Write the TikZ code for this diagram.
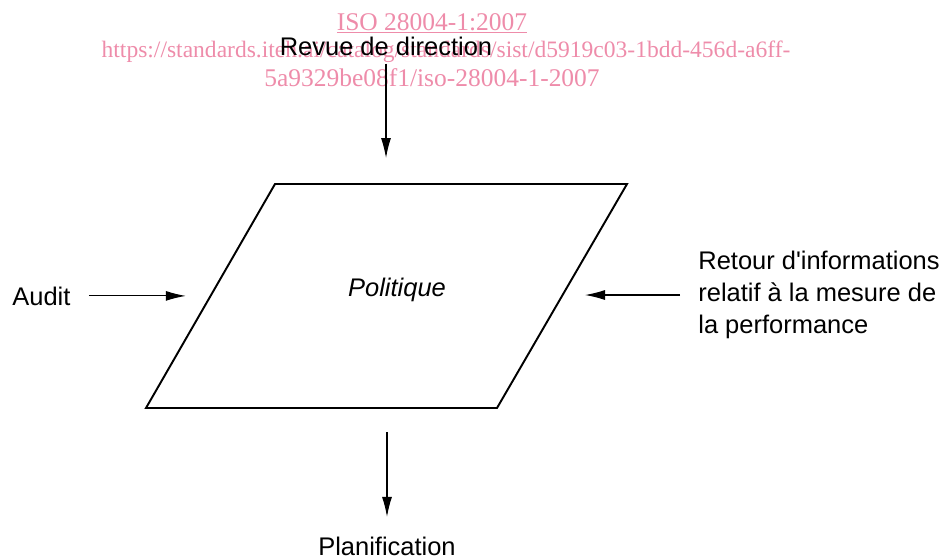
\documentclass[tikz,border=0pt]{standalone}
\usepackage{fontspec}
\setmainfont{Liberation Sans}
\newfontfamily\wmfont{Liberation Serif}
\usetikzlibrary{arrows.meta}
\definecolor{wmpink}{RGB}{238,140,170}

\begin{document}
\begin{tikzpicture}[x=0.02cm, y=-0.02cm, font=\fontsize{14.5}{19}\selectfont]
    %politique
\tikzset{
    flux/.style={-{Latex[length=4mm, width=2mm]}, line width=0.6pt},
    lbl/.style={inner sep=0pt},
    wm/.style={wmpink, inner sep=0pt, font=\wmfont\fontsize{14.5}{16}\selectfont}
}
    \useasboundingbox (0,0) rectangle (949,558);
    % filigrane
    \node[wm, anchor=base](wmiso) at (432,30) {\underline{ISO 28004-1:2007}};
    \node[wm, anchor=base, font=\wmfont\fontsize{13.4}{16}\selectfont](wmurl) at (446,57) {https://standards.iteh.ai/catalog/standards/sist/d5919c03-1bdd-456d-a6ff-};
    \node[wm, anchor=base](wmref) at (432,86) {5a9329be08f1/iso-28004-1-2007};

    \coordinate (p1) at (275,184);
    \coordinate (p2) at (627,184);
    \coordinate (p3) at (497,408);
    \coordinate (p4) at (146,408);
    \draw[line width=1.1pt] (p1) -- (p2) -- (p3) -- (p4) -- cycle;
    \node[lbl](Politique) at (397,290) {\itshape Politique};

    \node[lbl, anchor=base](Revue) at (386,55) {Revue de direction};
    \node[lbl, anchor=base west](Audit) at (12,305) {Audit};
    \node[lbl, anchor=west, align=left, font=\fontsize{14.5}{18.2}\selectfont](Retour) at (698,295) {Retour d\textquotesingle informations\\relatif à la mesure de\\la performance};
    \node[lbl, anchor=base](Planification) at (387,555) {Planification};

    \coordinate (haut) at (386,158);
    \coordinate (bas) at (387,432);
    \draw[flux] (Revue.south) ++(0,8) -- (haut);
    \draw[flux] (Audit.east) ++(18,0) -- ++(97,0);
    \draw[flux] (Retour.west) ++(-18,0) -- ++(-95,0);
    \draw[flux] (bas) -- ([yshift=11pt]Planification.north);
\end{tikzpicture}
\end{document}
